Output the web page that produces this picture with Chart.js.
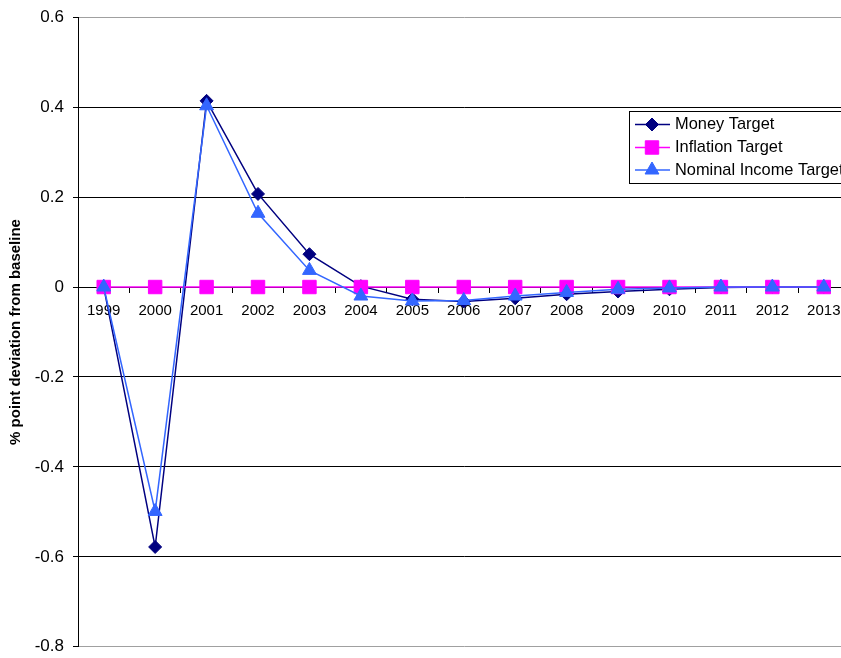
<!DOCTYPE html>
<html>
<head>
<meta charset="utf-8">
<script src="https://cdn.jsdelivr.net/npm/chart.js@4"></script>
<style>
  html, body { margin: 0; padding: 0; background: #fff; overflow: hidden; }
  #wrap { position: relative; width: 860px; height: 668px; margin-top: -2px; }
</style>
</head>
<body>
<div id="wrap"><canvas id="chart"></canvas></div>
<script>
const years = ["1999", "2000", "2001", "2002", "2003", "2004", "2005", "2006",
  "2007", "2008", "2009", "2010", "2011", "2012", "2013"];
const moneyTarget = [0, -0.578, 0.414, 0.207, 0.073, 0.002, -0.027, -0.032,
  -0.025, -0.016, -0.010, -0.005, -0.001, 0, 0];
const inflationTarget = [0, 0, 0, 0, 0, 0, 0, 0, 0, 0, 0, 0, 0, 0, 0];
const nominalIncomeTarget = [0, -0.499, 0.403, 0.164, 0.037, -0.020, -0.031, -0.030,
  -0.020, -0.012, -0.005, -0.002, 0, 0, 0];
const yTicks = [-0.8, -0.6, -0.4, -0.2, 0, 0.2, 0.4, 0.6];

const seriesNames = ["Money Target", "Inflation Target", "Nominal Income Target"];
const colores = ["#000080", "#FF00FF", "#3366FF"];
const estilos = ["rectRot", "rect", "triangle"];
const radios = [6.5, 9.5, 8];

function serie(i, data, order) {
  return {
    label: seriesNames[i],
    data: data,
    borderColor: colores[i],
    backgroundColor: colores[i],
    borderWidth: 1.5,
    pointStyle: estilos[i],
    pointRadius: radios[i],
    pointHoverRadius: radios[i],
    pointBackgroundColor: colores[i],
    pointBorderColor: colores[i],
    pointBorderWidth: 1,
    tension: 0,
    order: order,
    clip: false
  };
}

// leyenda dibujada a mano: linea + marcador como en Excel
// (el canvas va 2px desplazado hacia arriba)
const leyendaExcel = {
  id: "leyendaExcel",
  afterDraw(chart) {
    const ctx = chart.ctx;
    const x = 629.5, y = 113.5, w = 260, h = 72;
    ctx.save();
    ctx.fillStyle = "#fff";
    ctx.fillRect(x, y, w, h);
    ctx.strokeStyle = "#000";
    ctx.lineWidth = 1;
    ctx.strokeRect(x, y, w, h);
    const filas = [126.5, 149.5, 172];
    ctx.font = "16.4px Arial, 'Liberation Sans', sans-serif";
    ctx.textBaseline = "middle";
    seriesNames.forEach((name, i) => {
      const yy = filas[i];
      ctx.strokeStyle = colores[i];
      ctx.lineWidth = 1.5;
      ctx.beginPath();
      ctx.moveTo(635, yy);
      ctx.lineTo(670, yy);
      ctx.stroke();
      ctx.fillStyle = colores[i];
      ctx.strokeStyle = colores[i];
      ctx.lineWidth = 1;
      Chart.helpers.drawPoint(ctx, {
        pointStyle: estilos[i],
        radius: radios[i],
        rotation: 0,
        borderWidth: 1
      }, 652, yy);
      ctx.fillStyle = "#000";
      ctx.fillText(name, 675, yy);
    });
    ctx.restore();
  }
};

const ctx = document.getElementById("chart").getContext("2d");
new Chart(ctx, {
  type: "line",
  data: {
    labels: years,
    datasets: [
      serie(0, moneyTarget, 3),
      serie(1, inflationTarget, 2),
      serie(2, nominalIncomeTarget, 1)
    ]
  },
  options: {
    responsive: true,
    maintainAspectRatio: false,
    animation: false,
    layout: { padding: { left: 7, top: 15, right: 9, bottom: 4 } },
    plugins: {
      legend: { display: false },
      tooltip: { enabled: false }
    },
    scales: {
      x: {
        type: "category",
        position: { y: 0 },
        offset: true,
        grid: {
          display: true,
          offset: true,
          drawOnChartArea: false,
          drawTicks: true,
          tickLength: 5,
          color: "#000"
        },
        border: { display: true, color: "#000", width: 1 },
        ticks: {
          color: "#000",
          padding: 10,
          maxRotation: 0,
          autoSkip: false,
          font: { family: "Arial, 'Liberation Sans', sans-serif", size: 15 }
        }
      },
      y: {
        min: -0.8,
        max: 0.6,
        afterFit(scale) { scale.width = 71; },
        afterBuildTicks(scale) { scale.ticks = yTicks.map(v => ({ value: v })); },
        grid: {
          color: c => (c.tick && (c.tick.value === 0.6 || c.tick.value === -0.8)) ? "#a0a0a0" : "#000",
          tickColor: "#000",
          tickLength: 5,
          lineWidth: 1
        },
        border: { display: true, color: "#000", width: 1 },
        ticks: {
          color: "#000",
          padding: 9,
          font: { family: "Arial, 'Liberation Sans', sans-serif", size: 17 },
          callback: v => String(Math.round(v * 10) / 10)
        },
        title: {
          display: true,
          text: "% point deviation from baseline",
          color: "#000",
          padding: { top: 0, bottom: 0 },
          font: { family: "Arial, 'Liberation Sans', sans-serif", size: 15, weight: "bold" }
        }
      }
    }
  },
  plugins: [leyendaExcel]
});
</script>
</body>
</html>
